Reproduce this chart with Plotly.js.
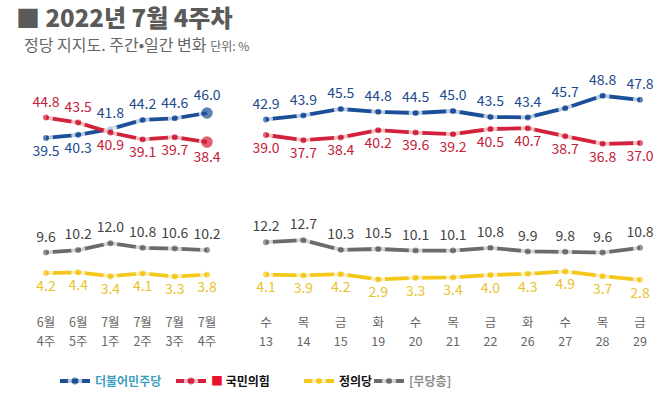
<!DOCTYPE html>
<html>
<head>
<meta charset="utf-8">
<script src="https://cdn.plot.ly/plotly-3.0.1.min.js"></script>
<style>html,body{margin:0;padding:0;background:#fff;}#chart{width:658px;height:407px;}</style>
</head>
<body>
<div id="chart"></div>
<script>
// ---- data ----
const weekMonths = ["6월", "6월", "7월", "7월", "7월", "7월"];
const weekNums = ["4주", "5주", "1주", "2주", "3주", "4주"];
const dayWeekdays = ["수", "목", "금", "화", "수", "목", "금", "화", "수", "목", "금"];
const dayDates = ["13", "14", "15", "19", "20", "21", "22", "26", "27", "28", "29"];

const weekDemocratic = [39.5, 40.3, 41.8, 44.2, 44.6, 46.0];
const weekPPP = [44.8, 43.5, 40.9, 39.1, 39.7, 38.4];
const weekJustice = [4.2, 4.4, 3.4, 4.1, 3.3, 3.8];
const weekNone = [9.6, 10.2, 12.0, 10.8, 10.6, 10.2];

const dayDemocratic = [42.9, 43.9, 45.5, 44.8, 44.5, 45.0, 43.5, 43.4, 45.7, 48.8, 47.8];
const dayPPP = [39.0, 37.7, 38.4, 40.2, 39.6, 39.2, 40.5, 40.7, 38.7, 36.8, 37.0];
const dayJustice = [4.1, 3.9, 4.2, 2.9, 3.3, 3.4, 4.0, 4.3, 4.9, 3.7, 2.8];
const dayNone = [12.2, 12.7, 10.3, 10.5, 10.1, 10.1, 10.8, 9.9, 9.8, 9.6, 10.8];

const partyNames = [
  "더불어민주당",
  "<span style='color:#e8112d'>■</span> 국민의힘",
  "정의당",
  "[무당층]"
];

// ---- styles ----
const FONT = "'Noto Sans CJK KR', 'Noto Sans', sans-serif";
const lineColors = ["#1b4f97", "#d2213a", "#f4c81a", "#6b6b6b"];
const textColors = ["#1c4b8c", "#c42039", "#e9c22a", "#444444"];
const legendTextColors = ["#3d9fc0", "#111111", "#111111", "#8a8a8a"];
const legendIds = ["legend", "legend2", "legend3", "legend4"];
const legendXPx = [55, 171, 299, 369];

const W = 658, H = 407;
const PLOT_TOP = 60, PLOT_BOTTOM = 305;
const PLOT_H = PLOT_BOTTOM - PLOT_TOP;

function idx(arr) { return arr.map((_, i) => i); }
function fmt(v) { return v.toFixed(1); }

function makeTrace(vals, party, xa, ya, pos, bigLast, showLegend) {
  const n = vals.length;
  const sizes = vals.map((_, i) => (bigLast && i === n - 1) ? 14 : 10);
  const widths = vals.map((_, i) => (bigLast && i === n - 1) ? 2.5 : 4);
  return {
    type: "scatter",
    mode: "lines+markers+text",
    x: idx(vals),
    y: vals,
    xaxis: xa,
    yaxis: ya,
    name: partyNames[party],
    legend: legendIds[party],
    legendgroup: "p" + party,
    showlegend: showLegend,
    text: vals.map(fmt),
    textposition: pos,
    textfont: { family: FONT, size: 14, color: textColors[party] },
    line: { color: lineColors[party], width: 3.8 },
    marker: { color: lineColors[party], size: sizes, line: { color: "#ffffff", width: widths } },
    cliponaxis: false,
    hoverinfo: "skip"
  };
}

const weekDemPos = ["bottom center", "bottom center", "top center", "top center", "top center", "top center"];
const weekPPPPos = ["top center", "top center", "bottom center", "bottom center", "bottom center", "bottom center"];

const traces = [
  makeTrace(weekDemocratic, 0, "x", "y", weekDemPos, true, true),
  makeTrace(weekPPP, 1, "x", "y", weekPPPPos, true, true),
  makeTrace(weekJustice, 2, "x", "y", "bottom center", false, true),
  makeTrace(weekNone, 3, "x", "y", "top center", false, true),
  makeTrace(dayDemocratic, 0, "x2", "y2", "top center", false, false),
  makeTrace(dayPPP, 1, "x2", "y2", "bottom center", false, false),
  makeTrace(dayJustice, 2, "x2", "y2", "bottom center", false, false),
  makeTrace(dayNone, 3, "x2", "y2", "top center", false, false)
];

// axis mapping (pixel anchors)
const leftDomainPx = [0, 240], rightDomainPx = [240, 658];
const leftX0 = 46, leftStep = 32.2;
const rightX0 = 266, rightStep = 37.4;
function xRange(domPx, x0, step) {
  const r0 = -(x0 - domPx[0]) / step;
  return [r0, r0 + (domPx[1] - domPx[0]) / step];
}
function yRange(refVal, refPx, pxPerUnit) {
  const ymax = refVal + (refPx - PLOT_TOP) / pxPerUnit;
  return [ymax - PLOT_H / pxPerUnit, ymax];
}

const tickFont = { family: FONT, size: 12.5, color: "#666666" };
const commonX = {
  showgrid: false, zeroline: false, showline: false, ticks: "",
  tickfont: tickFont, fixedrange: true
};
const commonY = { showgrid: false, zeroline: false, showline: false, showticklabels: false, ticks: "", fixedrange: true };

const leftDom = [leftDomainPx[0] / W, leftDomainPx[1] / W];
const rightDom = [rightDomainPx[0] / W, rightDomainPx[1] / W];
const leftXR = xRange(leftDomainPx, leftX0, leftStep);
const rightXR = xRange(rightDomainPx, rightX0, rightStep);
const LINE1_STANDOFF = 8, LINE2_STANDOFF = 27;

function legendBox(i) {
  return {
    orientation: "h",
    x: legendXPx[i] / W, xanchor: "left",
    y: 1 - 381 / H, yanchor: "middle", yref: "container",
    font: { family: FONT, size: 12, color: "#111111", weight: "bold" },
    itemwidth: 30,
    bgcolor: "rgba(0,0,0,0)"
  };
}

const layout = {
  width: W, height: H,
  margin: { l: 0, r: 0, t: PLOT_TOP, b: H - PLOT_BOTTOM },
  paper_bgcolor: "#ffffff",
  plot_bgcolor: "#ffffff",
  font: { family: FONT, color: "#555555" },
  title: {
    text: "■ 2022년 7월 4주차",
    font: { family: FONT, size: 24, color: "#5a5a5a", weight: 900 },
    x: 16 / W, xanchor: "left", xref: "paper",
    y: 1 - 19 / H, yanchor: "middle", yref: "container"
  },
  xaxis: Object.assign({}, commonX, {
    domain: leftDom, range: leftXR,
    tickvals: idx(weekMonths), ticktext: weekMonths, anchor: "y",
    ticklabelstandoff: LINE1_STANDOFF
  }),
  xaxis3: Object.assign({}, commonX, {
    domain: leftDom, range: leftXR, overlaying: "x",
    tickvals: idx(weekNums), ticktext: weekNums, anchor: "y", side: "bottom",
    ticklabelstandoff: LINE2_STANDOFF
  }),
  xaxis2: Object.assign({}, commonX, {
    domain: rightDom, range: rightXR,
    tickvals: idx(dayWeekdays), ticktext: dayWeekdays, anchor: "y2",
    ticklabelstandoff: LINE1_STANDOFF
  }),
  xaxis4: Object.assign({}, commonX, {
    domain: rightDom, range: rightXR, overlaying: "x2",
    tickvals: idx(dayDates), ticktext: dayDates, anchor: "y2", side: "bottom",
    ticklabelstandoff: LINE2_STANDOFF
  }),
  yaxis: Object.assign({}, commonY, { range: yRange(46.0, 113, 3.83), anchor: "x" }),
  yaxis2: Object.assign({}, commonY, { range: yRange(45.5, 109, 4.0), anchor: "x2" }),
  showlegend: true,
  legend: legendBox(0),
  legend2: legendBox(1),
  legend3: legendBox(2),
  legend4: legendBox(3),
  annotations: [
    {
      xref: "paper", yref: "paper", x: 22 / W, y: (PLOT_BOTTOM - 44) / PLOT_H,
      text: "정당 지지도. 주간•일간 변화 <span style='font-size:12px'>단위: %</span>",
      showarrow: false, xanchor: "left", yanchor: "middle",
      font: { family: FONT, size: 16, color: "#666666" }
    }
  ]
};

// invisible helpers so the second-line label axes are drawn
traces.push({ type: "scatter", x: [], y: [], xaxis: "x3", yaxis: "y", showlegend: false, hoverinfo: "skip" });
traces.push({ type: "scatter", x: [], y: [], xaxis: "x4", yaxis: "y2", showlegend: false, hoverinfo: "skip" });

Plotly.newPlot("chart", traces, layout, { staticPlot: true, displayModeBar: false }).then(function (gd) {
  legendIds.forEach(function (id, i) {
    const cls = id === "legend" ? ".legend" : "." + id;
    const t = gd.querySelector(cls + " .traces text");
    if (t) t.style.fill = legendTextColors[i];
  });
});
</script>
</body>
</html>
